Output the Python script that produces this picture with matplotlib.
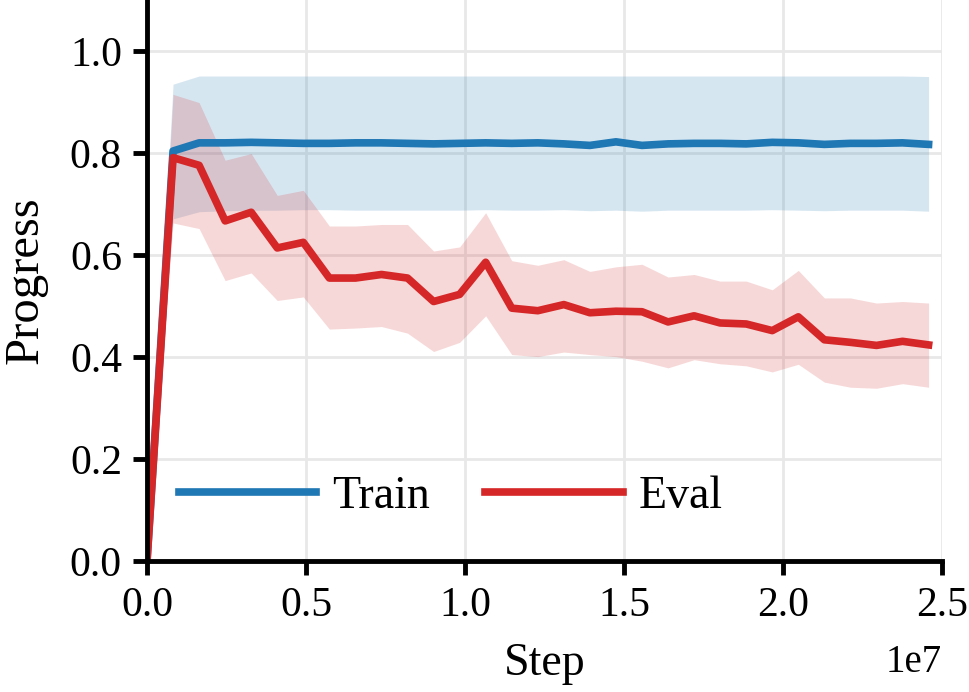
import numpy as np
import matplotlib
matplotlib.use("Agg")
from matplotlib import pyplot as plt

# step index -> env steps
steps = np.arange(31) * 819200

train_mean = [0.0, 0.804, 0.820, 0.820, 0.821, 0.820, 0.819, 0.819, 0.820, 0.820, 0.819,
              0.818, 0.819, 0.820, 0.819, 0.820, 0.818, 0.815, 0.822, 0.815, 0.818,
              0.819, 0.819, 0.818, 0.821, 0.820, 0.817, 0.819, 0.819, 0.820, 0.817]
train_low = [0.0, 0.671, 0.685, 0.687, 0.688, 0.688, 0.689, 0.689, 0.688, 0.688, 0.688,
             0.688, 0.688, 0.689, 0.688, 0.688, 0.689, 0.687, 0.688, 0.686, 0.688,
             0.688, 0.688, 0.688, 0.689, 0.688, 0.687, 0.688, 0.688, 0.688, 0.686]
train_high = [0.0, 0.935, 0.951, 0.951, 0.951, 0.951, 0.951, 0.951, 0.951, 0.951, 0.951,
              0.951, 0.951, 0.951, 0.951, 0.951, 0.951, 0.951, 0.951, 0.951, 0.951,
              0.951, 0.951, 0.951, 0.951, 0.951, 0.951, 0.951, 0.951, 0.951, 0.950]

eval_mean = [0.0, 0.791, 0.776, 0.667, 0.684, 0.614, 0.625, 0.555, 0.555, 0.562, 0.555,
             0.509, 0.523, 0.586, 0.496, 0.491, 0.503, 0.487, 0.490, 0.489, 0.469,
             0.481, 0.467, 0.465, 0.452, 0.479, 0.434, 0.429, 0.423, 0.431, 0.424]
eval_low = [0.0, 0.663, 0.652, 0.550, 0.565, 0.511, 0.518, 0.455, 0.457, 0.460, 0.447,
            0.411, 0.429, 0.481, 0.405, 0.401, 0.410, 0.405, 0.401, 0.392, 0.379,
            0.395, 0.387, 0.383, 0.371, 0.386, 0.351, 0.341, 0.339, 0.348, 0.341]
eval_high = [0.0, 0.915, 0.899, 0.786, 0.799, 0.717, 0.727, 0.657, 0.657, 0.660, 0.660,
             0.608, 0.616, 0.683, 0.589, 0.580, 0.591, 0.568, 0.577, 0.582, 0.557,
             0.562, 0.549, 0.549, 0.532, 0.570, 0.516, 0.516, 0.506, 0.509, 0.506]

plt.rcParams['font.family'] = ['Liberation Serif', 'DejaVu Serif']

fig = plt.figure(figsize=(9.69, 6.92), dpi=100)
ax = fig.add_axes([0.1517, 0.189, 0.8205, 0.811])

ax.fill_between(steps, train_low, train_high, color='tab:blue', alpha=0.18, lw=0)
ax.fill_between(steps, eval_low, eval_high, color='tab:red', alpha=0.18, lw=0)
ax.plot(steps, train_mean, color='tab:blue', lw=5.5, label='Train')
ax.plot(steps, eval_mean, color='tab:red', lw=5.5, label='Eval')

ax.set_xlim(0, 2.5e7)
ax.set_ylim(0, 1.1)
ax.set_yticks([0, 0.2, 0.4, 0.6, 0.8, 1.0])
ax.set_xlabel('Step', fontsize=33)
ax.set_ylabel('Progress', fontsize=35)
ax.xaxis.set_label_coords(0.5, -0.145)
ax.yaxis.set_label_coords(-0.125, 0.5)
ax.tick_params(labelsize=30, width=3.5, length=10, pad=8)

# scale label drawn by hand so it sits where the original one does
ax.xaxis.get_offset_text().set_visible(False)
ax.text(1.0, -0.148, '1e7', transform=ax.transAxes, ha='right', va='top', fontsize=28)

ax.grid(True, color='#e8e8e8', lw=2)
ax.set_axisbelow(True)
for s in ['top', 'right']:
    ax.spines[s].set_visible(False)
for s in ['left', 'bottom']:
    ax.spines[s].set_linewidth(3.5)

ax.legend(loc='center', bbox_to_anchor=(0.382, 0.114), ncol=2, frameon=False,
          fontsize=33, handlelength=3.0, handletextpad=0.35, columnspacing=1.2)

fig.savefig('out.png', dpi=100)
